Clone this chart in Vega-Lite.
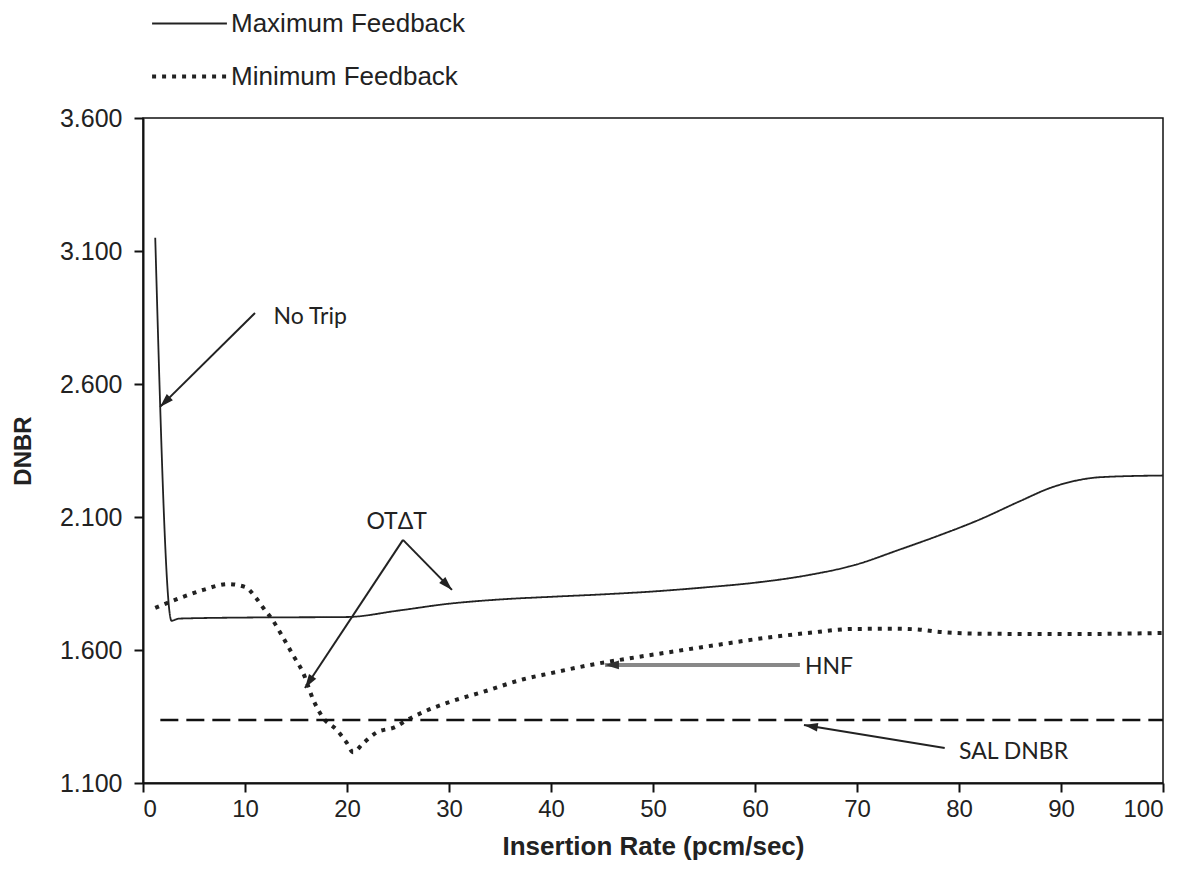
{
  "$schema": "https://vega.github.io/schema/vega-lite/v6.json",
  "width": 1020,
  "height": 665,
  "autosize": "none",
  "padding": {"left": 143, "top": 118, "right": 29, "bottom": 106},
  "background": "white",
  "config": {
    "view": {"stroke": "#111", "strokeWidth": 1.5},
    "font": "Liberation Sans",
    "axis": {"grid": false, "domainColor": "#111", "domainWidth": 2, "tickColor": "#111", "tickWidth": 2, "tickSize": 9, "labelColor": "#222", "labelFont": "Liberation Sans", "titleFont": "Liberation Sans", "titleColor": "#222"}
  },
  "datasets": {
    "curves": [
      {"x": 1.2, "y": 3.15, "series": "Maximum Feedback"},
      {"x": 2.8, "y": 1.71, "series": "Maximum Feedback"},
      {"x": 3.5, "y": 1.718, "series": "Maximum Feedback"},
      {"x": 10, "y": 1.722, "series": "Maximum Feedback"},
      {"x": 20, "y": 1.724, "series": "Maximum Feedback"},
      {"x": 25, "y": 1.748, "series": "Maximum Feedback"},
      {"x": 30, "y": 1.774, "series": "Maximum Feedback"},
      {"x": 35, "y": 1.79, "series": "Maximum Feedback"},
      {"x": 40, "y": 1.8, "series": "Maximum Feedback"},
      {"x": 45, "y": 1.809, "series": "Maximum Feedback"},
      {"x": 50, "y": 1.82, "series": "Maximum Feedback"},
      {"x": 55, "y": 1.835, "series": "Maximum Feedback"},
      {"x": 60, "y": 1.853, "series": "Maximum Feedback"},
      {"x": 65, "y": 1.88, "series": "Maximum Feedback"},
      {"x": 70, "y": 1.922, "series": "Maximum Feedback"},
      {"x": 74, "y": 1.975, "series": "Maximum Feedback"},
      {"x": 78, "y": 2.03, "series": "Maximum Feedback"},
      {"x": 82, "y": 2.09, "series": "Maximum Feedback"},
      {"x": 86, "y": 2.16, "series": "Maximum Feedback"},
      {"x": 89, "y": 2.21, "series": "Maximum Feedback"},
      {"x": 91.5, "y": 2.237, "series": "Maximum Feedback"},
      {"x": 94, "y": 2.25, "series": "Maximum Feedback"},
      {"x": 100, "y": 2.256, "series": "Maximum Feedback"},
      {"x": 1.2, "y": 1.758, "series": "Minimum Feedback"},
      {"x": 3.6, "y": 1.795, "series": "Minimum Feedback"},
      {"x": 5.9, "y": 1.826, "series": "Minimum Feedback"},
      {"x": 8.3, "y": 1.848, "series": "Minimum Feedback"},
      {"x": 10, "y": 1.837, "series": "Minimum Feedback"},
      {"x": 11, "y": 1.8, "series": "Minimum Feedback"},
      {"x": 11.8, "y": 1.758, "series": "Minimum Feedback"},
      {"x": 12.7, "y": 1.713, "series": "Minimum Feedback"},
      {"x": 13.7, "y": 1.649, "series": "Minimum Feedback"},
      {"x": 14.7, "y": 1.581, "series": "Minimum Feedback"},
      {"x": 15.7, "y": 1.514, "series": "Minimum Feedback"},
      {"x": 16.7, "y": 1.412, "series": "Minimum Feedback"},
      {"x": 17.6, "y": 1.348, "series": "Minimum Feedback"},
      {"x": 19, "y": 1.299, "series": "Minimum Feedback"},
      {"x": 20, "y": 1.25, "series": "Minimum Feedback"},
      {"x": 20.6, "y": 1.216, "series": "Minimum Feedback"},
      {"x": 21.6, "y": 1.25, "series": "Minimum Feedback"},
      {"x": 22.9, "y": 1.29, "series": "Minimum Feedback"},
      {"x": 24.7, "y": 1.31, "series": "Minimum Feedback"},
      {"x": 25.9, "y": 1.337, "series": "Minimum Feedback"},
      {"x": 27.5, "y": 1.367, "series": "Minimum Feedback"},
      {"x": 30.1, "y": 1.405, "series": "Minimum Feedback"},
      {"x": 33.3, "y": 1.442, "series": "Minimum Feedback"},
      {"x": 37.3, "y": 1.49, "series": "Minimum Feedback"},
      {"x": 40, "y": 1.513, "series": "Minimum Feedback"},
      {"x": 43.6, "y": 1.542, "series": "Minimum Feedback"},
      {"x": 47.9, "y": 1.57, "series": "Minimum Feedback"},
      {"x": 52.3, "y": 1.596, "series": "Minimum Feedback"},
      {"x": 56.6, "y": 1.621, "series": "Minimum Feedback"},
      {"x": 60.9, "y": 1.645, "series": "Minimum Feedback"},
      {"x": 65.2, "y": 1.664, "series": "Minimum Feedback"},
      {"x": 69.5, "y": 1.679, "series": "Minimum Feedback"},
      {"x": 73.8, "y": 1.68, "series": "Minimum Feedback"},
      {"x": 76, "y": 1.677, "series": "Minimum Feedback"},
      {"x": 78.1, "y": 1.668, "series": "Minimum Feedback"},
      {"x": 82.5, "y": 1.661, "series": "Minimum Feedback"},
      {"x": 91, "y": 1.66, "series": "Minimum Feedback"},
      {"x": 100, "y": 1.664, "series": "Minimum Feedback"}
    ],
    "sal": [{"x": 1.7, "x2": 100, "y": 1.337}],
    "arrows": [
      {"id": "notrip", "x": 10.98, "y": 2.867, "x2": 1.67, "y2": 2.514},
      {"id": "otdt1", "x": 25.49, "y": 2.014, "x2": 15.88, "y2": 1.457},
      {"id": "otdt2", "x": 25.49, "y": 2.014, "x2": 30.29, "y2": 1.826},
      {"id": "hnf", "x": 64.4, "y": 1.544, "x2": 45.3, "y2": 1.544},
      {"id": "sal", "x": 78.6, "y": 1.232, "x2": 64.8, "y2": 1.318}
    ],
    "labels": [
      {"text": "No Trip", "x": 12.8, "y": 2.852},
      {"text": "OTΔT", "x": 21.9, "y": 2.081},
      {"text": "HNF", "x": 64.9, "y": 1.536},
      {"text": "SAL DNBR", "x": 80.0, "y": 1.216}
    ]
  },
  "layer": [
    {
      "data": {"name": "curves"},
      "mark": {"type": "line", "color": "#222", "strokeCap": "butt", "interpolate": "monotone"},
      "encoding": {
        "x": {"field": "x", "type": "quantitative", "scale": {"domain": [0, 100], "nice": false},
          "axis": {"values": [0, 10, 20, 30, 40, 50, 60, 70, 80, 90, 100], "labelFontSize": 24, "labelPadding": 5, "title": "Insertion Rate (pcm/sec)", "titleFontSize": 26, "titleFontWeight": "bold", "titlePadding": 12}},
        "y": {"field": "y", "type": "quantitative", "scale": {"domain": [1.1, 3.6], "nice": false, "zero": false},
          "axis": {"values": [1.1, 1.6, 2.1, 2.6, 3.1, 3.6], "format": ".3f", "labelFontSize": 25, "labelPadding": 12, "title": "DNBR", "titleFontSize": 24, "titleFontWeight": "bold", "titlePadding": 24}},
        "strokeDash": {"field": "series", "type": "nominal",
          "scale": {"domain": ["Maximum Feedback", "Minimum Feedback"], "range": [[1, 0], [4, 6]]},
          "legend": {"orient": "none", "legendX": 7, "legendY": -133, "title": null, "labelFontSize": 26, "labelColor": "#222", "labelLimit": 0, "symbolType": "stroke", "symbolSize": 5600, "symbolStrokeColor": "#222", "rowPadding": -12, "labelOffset": 2}},
        "strokeWidth": {"field": "series", "type": "nominal",
          "scale": {"domain": ["Maximum Feedback", "Minimum Feedback"], "range": [1.8, 4]}, "legend": null}
      }
    },
    {
      "data": {"name": "sal"},
      "mark": {"type": "rule", "color": "#111", "strokeWidth": 2.5, "strokeDash": [18, 8]},
      "encoding": {
        "x": {"field": "x", "type": "quantitative"},
        "x2": {"field": "x2"},
        "y": {"field": "y", "type": "quantitative"}
      }
    },
    {
      "data": {"name": "arrows"},
      "transform": [{"filter": "datum.id != 'hnf'"}],
      "mark": {"type": "rule", "color": "#222", "strokeWidth": 2},
      "encoding": {
        "x": {"field": "x", "type": "quantitative"},
        "x2": {"field": "x2"},
        "y": {"field": "y", "type": "quantitative"},
        "y2": {"field": "y2"}
      }
    },
    {
      "data": {"name": "arrows"},
      "transform": [{"filter": "datum.id == 'hnf'"}],
      "mark": {"type": "rule", "color": "#888", "strokeWidth": 4},
      "encoding": {
        "x": {"field": "x", "type": "quantitative"},
        "x2": {"field": "x2"},
        "y": {"field": "y", "type": "quantitative"},
        "y2": {"field": "y2"}
      }
    },
    {
      "data": {"name": "arrows"},
      "transform": [{"filter": "datum.id == 'notrip'"}],
      "mark": {"type": "point", "shape": "M0,0L0.5,1.6L-0.5,1.6Z", "filled": true, "color": "#222", "size": 300, "angle": 225, "opacity": 1},
      "encoding": {"x": {"field": "x2", "type": "quantitative"}, "y": {"field": "y2", "type": "quantitative"}}
    },
    {
      "data": {"name": "arrows"},
      "transform": [{"filter": "datum.id == 'otdt1'"}],
      "mark": {"type": "point", "shape": "M0,0L0.5,1.6L-0.5,1.6Z", "filled": true, "color": "#222", "size": 300, "angle": 213.5, "opacity": 1},
      "encoding": {"x": {"field": "x2", "type": "quantitative"}, "y": {"field": "y2", "type": "quantitative"}}
    },
    {
      "data": {"name": "arrows"},
      "transform": [{"filter": "datum.id == 'otdt2'"}],
      "mark": {"type": "point", "shape": "M0,0L0.5,1.6L-0.5,1.6Z", "filled": true, "color": "#222", "size": 300, "angle": 135.6, "opacity": 1},
      "encoding": {"x": {"field": "x2", "type": "quantitative"}, "y": {"field": "y2", "type": "quantitative"}}
    },
    {
      "data": {"name": "arrows"},
      "transform": [{"filter": "datum.id == 'hnf'"}],
      "mark": {"type": "point", "shape": "M0,0L0.5,1.6L-0.5,1.6Z", "filled": true, "color": "#333", "size": 300, "angle": 270, "opacity": 1},
      "encoding": {"x": {"field": "x2", "type": "quantitative"}, "y": {"field": "y2", "type": "quantitative"}}
    },
    {
      "data": {"name": "arrows"},
      "transform": [{"filter": "datum.id == 'sal'"}],
      "mark": {"type": "point", "shape": "M0,0L0.5,1.6L-0.5,1.6Z", "filled": true, "color": "#222", "size": 300, "angle": 279, "opacity": 1},
      "encoding": {"x": {"field": "x2", "type": "quantitative"}, "y": {"field": "y2", "type": "quantitative"}}
    },
    {
      "data": {"name": "labels"},
      "mark": {"type": "text", "align": "left", "baseline": "middle", "font": "Lato", "fontSize": 23, "color": "#222"},
      "encoding": {
        "x": {"field": "x", "type": "quantitative"},
        "y": {"field": "y", "type": "quantitative"},
        "text": {"field": "text"}
      }
    }
  ]
}
